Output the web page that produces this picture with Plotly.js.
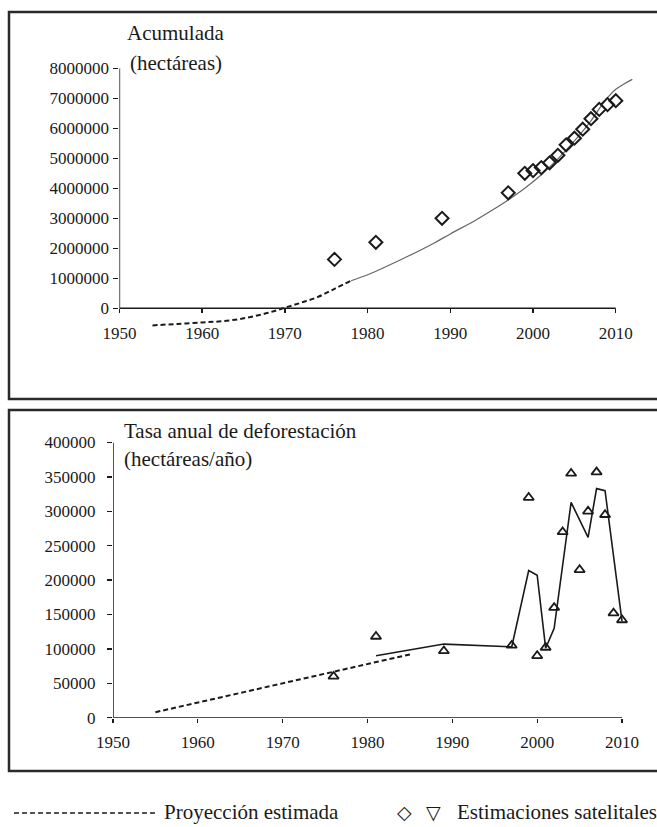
<!DOCTYPE html>
<html>
<head>
<meta charset="utf-8">
<script src="https://cdn.plot.ly/plotly-3.0.1.min.js"></script>
<style>html,body{margin:0;padding:0;background:#fff;}</style>
</head>
<body>
<div id="chart" style="width:657px;height:827px;"></div>
<script>
// ---------- DATA ----------
// Top panel: cumulative deforestation (hectares)
const projYearsTop = [1954, 1957, 1960, 1962, 1964, 1966, 1968, 1970, 1972, 1974, 1976, 1978];
const projValsTop  = [-570000, -520000, -470000, -440000, -380000, -280000, -150000, 20000, 190000, 380000, 650000, 920000];

const fitYears = [1978, 1980, 1982, 1985, 1988, 1990, 1993, 1995, 1997, 1999, 2001, 2003, 2005, 2007, 2008, 2009, 2010, 2011, 2012];
const fitVals  = [920000, 1120000, 1360000, 1750000, 2170000, 2480000, 2930000, 3260000, 3610000, 4000000, 4450000, 4980000, 5580000, 6250000, 6650000, 7020000, 7300000, 7480000, 7630000];

const satYears = [1976, 1981, 1989, 1997, 1999, 2000, 2001, 2002, 2003, 2004, 2005, 2006, 2007, 2008, 2009, 2010];
const satCum   = [1630000, 2200000, 3000000, 3850000, 4500000, 4590000, 4690000, 4850000, 5100000, 5450000, 5670000, 5970000, 6320000, 6630000, 6790000, 6920000];

// Bottom panel: annual deforestation rate (hectares/year)
const projYearsRate = [1955, 1985];
const projValsRate  = [8000, 92000];

const rateLineYears = [1981, 1989, 1997, 1999, 2000, 2001, 2002, 2004, 2006, 2007, 2008, 2010];
const rateLineVals  = [90000, 107000, 103000, 214000, 207000, 101000, 130000, 313000, 262000, 333000, 330000, 140000];

const satRate = [60000, 118000, 97000, 105000, 320000, 90000, 102000, 160000, 270000, 355000, 215000, 300000, 357000, 295000, 152000, 142000];

// Tick labels
const xTicks = [1950, 1960, 1970, 1980, 1990, 2000, 2010];
const yTicksTop = [0, 1000000, 2000000, 3000000, 4000000, 5000000, 6000000, 7000000, 8000000];
const yTickTextTop = ['0', '1000000', '2000000', '3000000', '4000000', '5000000', '6000000', '7000000', '8000000'];
const yTicksBot = [0, 50000, 100000, 150000, 200000, 250000, 300000, 350000, 400000];
const yTickTextBot = ['0', '50000', '100000', '150000', '200000', '250000', '300000', '350000', '400000'];

// Texts
const titleTop1 = 'Acumulada';
const titleTop2 = '(hectáreas)';
const titleBot1 = 'Tasa anual de deforestación';
const titleBot2 = '(hectáreas/año)';
const legendProj = 'Proyección estimada';
const legendDiamond = '◇';
const legendTriangle = '▽';
const legendSat = 'Estimaciones satelitales';

// ---------- CHART ----------
const W = 657, H = 827;
const px = v => v / W;
const py = v => 1 - v / H;
const INK = '#1a1a1a';
const FONT = 'Liberation Serif';

const traces = [
  {x: projYearsTop, y: projValsTop, xaxis: 'x', yaxis: 'y', mode: 'lines', line: {color: INK, width: 2, dash: '5px,3px', shape: 'spline'}, hoverinfo: 'skip'},
  {x: fitYears, y: fitVals, xaxis: 'x', yaxis: 'y', mode: 'lines', line: {color: '#666', width: 1.2, shape: 'spline'}, hoverinfo: 'skip'},
  {x: satYears, y: satCum, xaxis: 'x', yaxis: 'y', mode: 'markers', cliponaxis: false,
   marker: {symbol: 'diamond-open', size: 10, color: INK, line: {width: 2, color: INK}}},
  {x: projYearsRate, y: projValsRate, xaxis: 'x2', yaxis: 'y2', mode: 'lines', line: {color: INK, width: 2, dash: '5px,3px'}, hoverinfo: 'skip'},
  {x: rateLineYears, y: rateLineVals, xaxis: 'x2', yaxis: 'y2', mode: 'lines', line: {color: INK, width: 1.6}, hoverinfo: 'skip'},
  {x: satYears, y: satRate, xaxis: 'x2', yaxis: 'y2', mode: 'markers', cliponaxis: false,
   marker: {symbol: 'triangle-up-open', size: 9, color: INK, line: {width: 1.8, color: INK}}}
];

const axisCommon = {showgrid: false, zeroline: false, showline: false, ticks: 'outside', tickcolor: INK, tickwidth: 1.3,
  tickfont: {family: FONT, size: 17, color: INK}};

const layout = {
  width: W, height: H,
  margin: {l: 0, r: 0, t: 0, b: 0},
  paper_bgcolor: '#fff', plot_bgcolor: 'rgba(0,0,0,0)',
  showlegend: false,
  font: {family: FONT, color: INK, size: 17},
  xaxis: Object.assign({}, axisCommon, {domain: [px(119.4), px(640.6)], range: [1950, 2013], anchor: 'free', position: py(308.3),
    tickvals: xTicks, ticklen: 4, ticklabelstandoff: 5}),
  yaxis: Object.assign({}, axisCommon, {domain: [py(332.3), py(68.3)], range: [-800000, 8000000], anchor: 'x',
    tickvals: yTicksTop, ticktext: yTickTextTop, ticklen: 5, ticklabelstandoff: 1}),
  xaxis2: Object.assign({}, axisCommon, {domain: [px(113), px(630.5)], range: [1950, 2011], anchor: 'y2',
    tickvals: xTicks, ticklen: 4, ticklabelstandoff: 5}),
  yaxis2: Object.assign({}, axisCommon, {domain: [py(717.7), py(442.5)], range: [0, 400000], anchor: 'x2',
    tickvals: yTicksBot, ticktext: yTickTextBot, ticklen: 5, ticklabelstandoff: 8}),
  shapes: [
    {type: 'rect', xref: 'paper', yref: 'paper', x0: px(9), x1: 1.02, y0: py(399), y1: py(12), line: {color: '#2a2a2a', width: 2.5}},
    {type: 'rect', xref: 'paper', yref: 'paper', x0: px(9), x1: 1.02, y0: py(771), y1: py(410), line: {color: '#2a2a2a', width: 2.5}},
    {type: 'line', xref: 'x', yref: 'y', x0: xTicks[0], x1: xTicks[xTicks.length - 1], y0: 0, y1: 0, line: {color: INK, width: 1.5}},
    {type: 'line', xref: 'x', yref: 'y', x0: xTicks[0], x1: xTicks[0], y0: 0, y1: yTicksTop[yTicksTop.length - 1], line: {color: INK, width: 1.5}},
    {type: 'line', xref: 'x2', yref: 'y2', x0: xTicks[0], x1: xTicks[xTicks.length - 1], y0: 0, y1: 0, line: {color: INK, width: 1.5}},
    {type: 'line', xref: 'x2', yref: 'y2', x0: xTicks[0], x1: xTicks[0], y0: 0, y1: yTicksBot[yTicksBot.length - 1], line: {color: INK, width: 1.5}},
    {type: 'line', xref: 'paper', yref: 'paper', x0: px(14), x1: px(155), y0: py(813), y1: py(813), line: {color: INK, width: 1.5, dash: '5px,3px'}}
  ],
  annotations: [
    {text: titleTop1, xref: 'paper', yref: 'paper', x: px(175), y: py(33), xanchor: 'center', yanchor: 'middle', showarrow: false, font: {family: FONT, size: 21, color: INK}},
    {text: titleTop2, xref: 'paper', yref: 'paper', x: px(176), y: py(63), xanchor: 'center', yanchor: 'middle', showarrow: false, font: {family: FONT, size: 21, color: INK}},
    {text: titleBot1, xref: 'paper', yref: 'paper', x: px(122), y: py(431), xanchor: 'left', yanchor: 'middle', showarrow: false, font: {family: FONT, size: 21, color: INK}},
    {text: titleBot2, xref: 'paper', yref: 'paper', x: px(122), y: py(459), xanchor: 'left', yanchor: 'middle', showarrow: false, font: {family: FONT, size: 21, color: INK}},
    {text: legendProj, xref: 'paper', yref: 'paper', x: px(162), y: py(812), xanchor: 'left', yanchor: 'middle', showarrow: false, font: {family: FONT, size: 21, color: INK}},
    {text: legendDiamond, xref: 'paper', yref: 'paper', x: px(404), y: py(812), xanchor: 'center', yanchor: 'middle', showarrow: false, font: {family: 'DejaVu Sans', size: 19, color: INK}},
    {text: legendTriangle, xref: 'paper', yref: 'paper', x: px(433), y: py(812), xanchor: 'center', yanchor: 'middle', showarrow: false, font: {family: 'DejaVu Sans', size: 19, color: INK}},
    {text: legendSat, xref: 'paper', yref: 'paper', x: px(455), y: py(812), xanchor: 'left', yanchor: 'middle', showarrow: false, font: {family: FONT, size: 21, color: INK}}
  ]
};

Plotly.newPlot('chart', traces, layout, {staticPlot: true, displayModeBar: false});
</script>
</body>
</html>
